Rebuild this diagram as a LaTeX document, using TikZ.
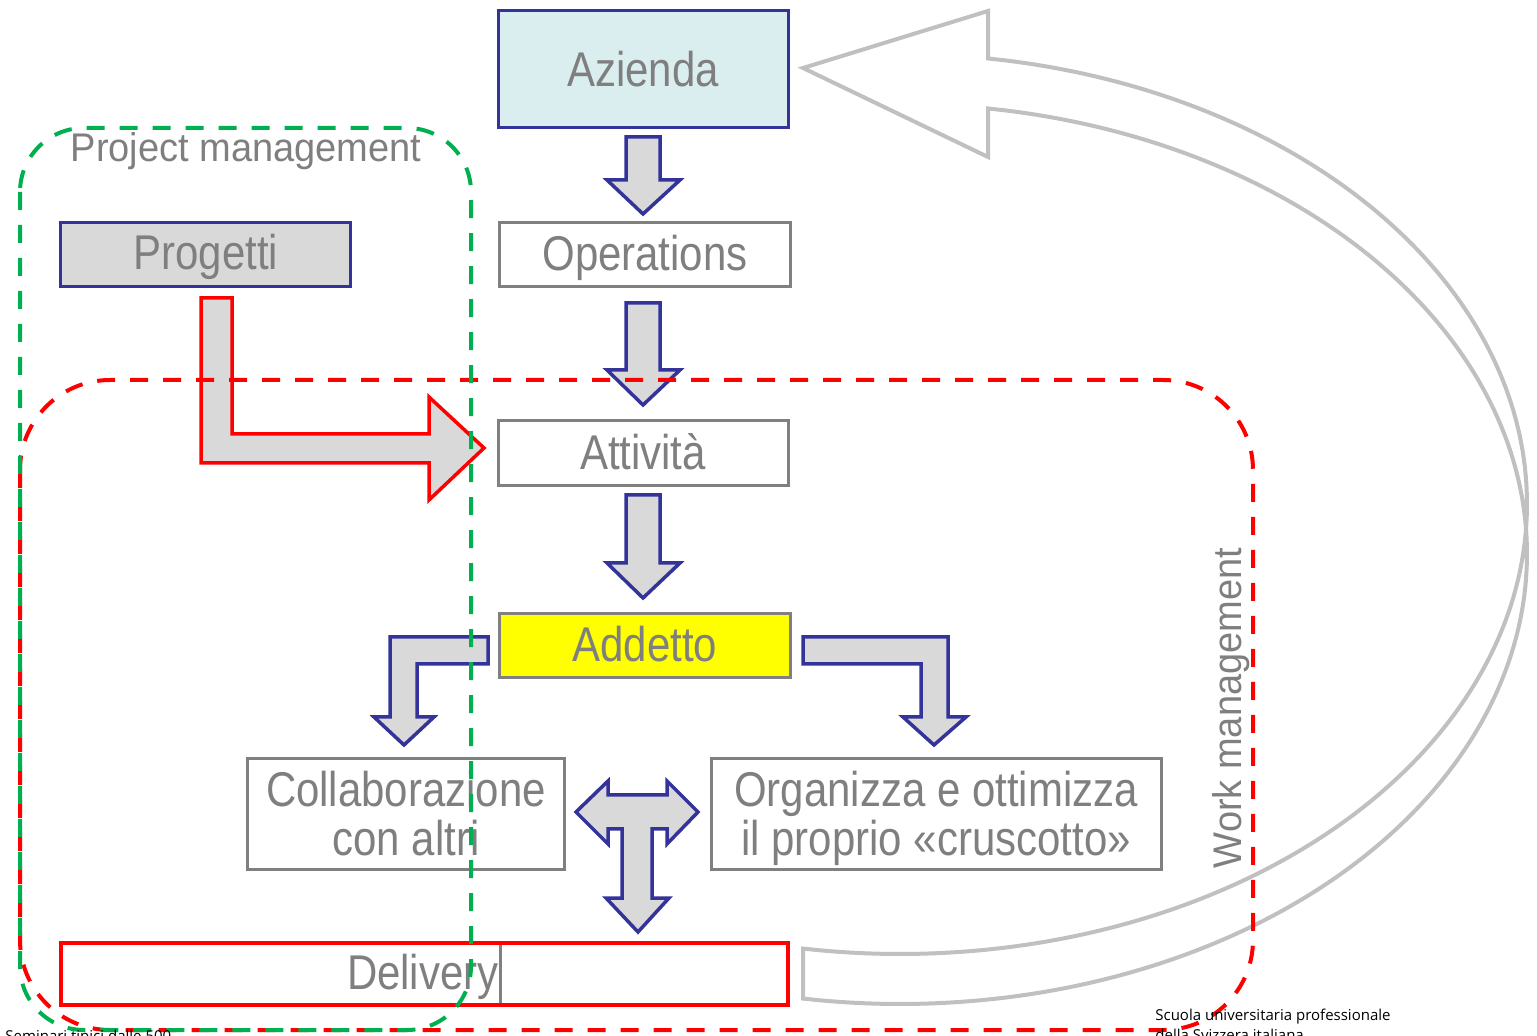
\documentclass[tikz,border=0pt]{standalone}
\usepackage{fontspec}
\setmainfont{Liberation Sans}
\newfontfamily\smallfont{Open Sans}
\usepackage{graphicx}
\definecolor{navy}{HTML}{333399}
\definecolor{boxgray}{HTML}{808080}
\definecolor{txtgray}{HTML}{7F7F7F}
\definecolor{fillgray}{HTML}{D9D9D9}
\definecolor{azfill}{HTML}{DAEEF0}
\definecolor{pmgreen}{HTML}{00B050}
\definecolor{arrowgray}{HTML}{C0C0C0}
\definecolor{addyellow}{HTML}{FFFF00}
\definecolor{purered}{HTML}{FF0000}
\newcommand\sq[1]{\scalebox{0.86}[1]{#1}}
\begin{document}
\begin{tikzpicture}[x=0.5pt,y=-0.5pt,
  box/.style={draw=boxgray, line width=1.6pt, fill=white, inner sep=0pt},
  navybox/.style={draw=navy, line width=1.9pt, inner sep=0pt},
  blockarrow/.style={fill=fillgray, draw=navy, line width=1.75pt, line join=miter},
  redarrow/.style={fill=fillgray, draw=purered, line width=1.75pt, line join=miter},
  lbl/.style={text=txtgray, font=\fontsize{24.4}{28}\selectfont, anchor=base, inner sep=0pt},
  lbltwo/.style={text=txtgray, font=\fontsize{20}{24}\selectfont, anchor=base, inner sep=0pt},
  smalltxt/.style={text=black, font=\smallfont\fontsize{7.5}{8.5}\selectfont, inner sep=0pt, align=left},
  dashregion/.style={line width=2pt, dash pattern=on 9pt off 7.5pt},
  bigarrow/.style={draw=arrowgray, line width=2pt, line join=miter}
]
\useasboundingbox (0,0) rectangle (1537,1036);

% boxes
\node[navybox, fill=azfill, minimum width=145pt, minimum height=58.5pt] (azienda) at (643.5,69) {};
\node[box, minimum width=145.5pt, minimum height=32pt] (operations) at (645,254.5) {};
\node[box, minimum width=145pt, minimum height=32.5pt] (attivita) at (643.5,453) {};
\node[box, fill=addyellow, minimum width=145.5pt, minimum height=32pt] (addetto) at (645,645.5) {};
\node[navybox, fill=fillgray, minimum width=145pt, minimum height=32pt] (progetti) at (205.5,254.5) {};
\node[box, minimum width=158.5pt, minimum height=55.5pt] (collab) at (406,814) {};
\node[box, minimum width=225pt, minimum height=55.5pt] (organizza) at (936.5,814) {};
\node[box, minimum width=144pt, minimum height=31pt] (delgray) at (644.5,974) {};
\node[draw=purered, line width=2pt, inner sep=0pt, minimum width=363.5pt, minimum height=31pt] (delivery) at (424.5,974) {};

% block arrows
\draw[blockarrow] (626,137) -- (660,137) -- (660,180) -- (680,180) -- (643,214) -- (607,180) -- (626,180) -- cycle;
\draw[blockarrow] (626,303) -- (660,303) -- (660,370) -- (680,370) -- (643,405) -- (607,370) -- (626,370) -- cycle;
\draw[blockarrow] (626,495) -- (660,495) -- (660,563) -- (680,563) -- (643,598) -- (607,563) -- (626,563) -- cycle;
\draw[blockarrow] (488,637) -- (488,664) -- (417,664) -- (417,717) -- (434,717) -- (404,745) -- (374,717) -- (390,717) -- (390,637) -- cycle;
\draw[blockarrow] (803,637) -- (948,637) -- (948,717) -- (966,717) -- (934,745) -- (903,717) -- (921,717) -- (921,664) -- (803,664) -- cycle;
\draw[blockarrow] (576,812) -- (608,781) -- (608,795) -- (667,795) -- (667,781) -- (698,812) -- (667,844) -- (667,829) -- (652,829) -- (652,898) -- (669,898) -- (638,932) -- (606,898) -- (622,898) -- (622,829) -- (608,829) -- (608,844) -- cycle;
\draw[redarrow] (201,298) -- (232,298) -- (232,434) -- (429,434) -- (429,397) -- (484,448) -- (429,500) -- (429,463) -- (201,463) -- cycle;

% labels
\node[lbl] (tAzienda) at (643,87) {\sq{Azienda}};
\node[lbl] (tOper) at (645,271) {\sq{Operations}};
\node[lbl] (tAtt) at (643,470) {\sq{Attività}};
\node[lbl] (tAdd) at (645,662) {\sq{Addetto}};
\node[lbl] (tProg) at (206,270) {\sq{Progetti}};
\node[lbl] (tColl1) at (406,806) {\sq{Collaborazione}};
\node[lbl] (tColl2) at (406,856) {\sq{con altri}};
\node[lbl] (tOrg1) at (936,806) {\sq{Organizza e ottimizza}};
\node[lbl] (tOrg2) at (936,856) {\sq{il proprio «cruscotto»}};
\node[lbl, anchor=base east] (tDel) at (499,989) {\sq{Delivery}};
\node[lbltwo] (tPM) at (246,162) {\scalebox{0.95}[1]{Project management}};
\node[lbltwo, rotate=90] (tWM) at (1241,708) {\scalebox{0.95}[1]{Work management}};

% big curved return arrow
\draw[bigarrow] plot[domain=-81.93:98.9, samples=90, smooth] ({900+627*cos(\x)},{504+450*sin(\x)})
  -- plot[domain=98.9:-81.93, samples=90, smooth] ({900+627*cos(\x)},{554+450*sin(\x)})
  -- (988,157) -- (803,68) -- (988,11) -- cycle;

% dashed regions
\draw[dashregion, draw=purered, rounded corners=45pt] (20,380) rectangle (1253,1030);
\draw[dashregion, draw=pmgreen, rounded corners=32pt] (20,128) rectangle (471,1030);

% footer texts (cut by the lower edge, as in the reference)
\node[smalltxt, anchor=base west] (supsi) at (1155,1020) {Scuola universitaria professionale};
\node[smalltxt, anchor=base west] (supsi2) at (1155,1040) {della Svizzera italiana};
\node[smalltxt, anchor=base west] (foot) at (5,1041) {Seminari tipici dalle 500};
\end{tikzpicture}
\end{document}
